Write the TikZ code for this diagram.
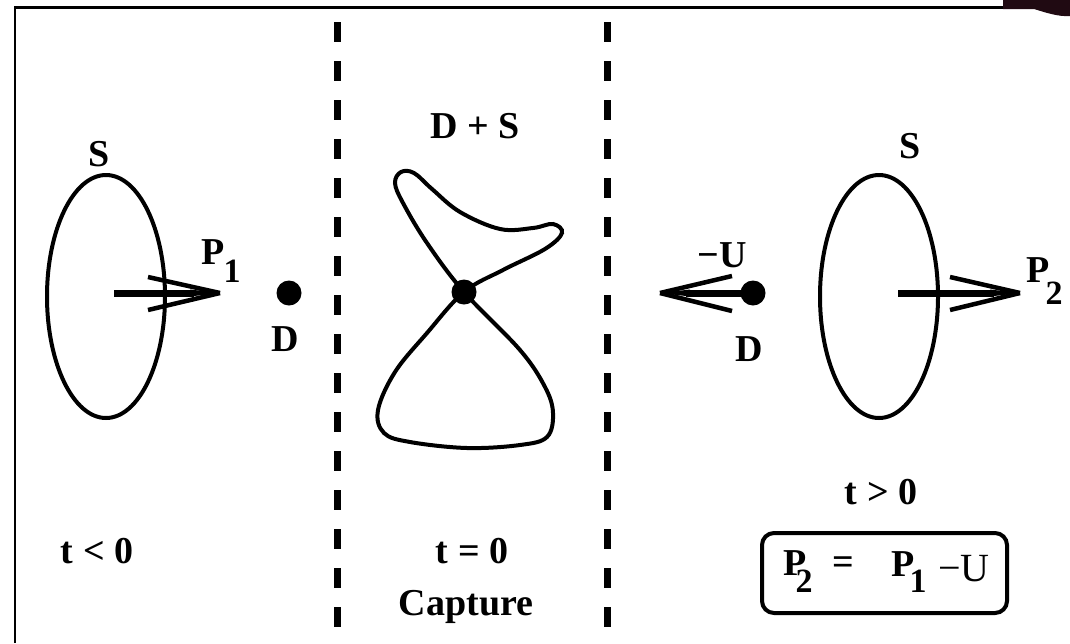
\documentclass[tikz,border=0pt]{standalone}
\usepackage{fontspec}
\setmainfont{Liberation Serif}
\usetikzlibrary{shapes.geometric}
\definecolor{blobc}{RGB}{32,10,18}
\begin{document}
\begin{tikzpicture}[x=1pt,y=-1pt,
  lbl/.style={font=\fontsize{38}{42}\selectfont\bfseries, inner sep=0pt},
  sublbl/.style={font=\fontsize{34}{38}\selectfont\bfseries, inner sep=0pt},
  dot/.style={circle, fill=black, minimum size=25pt, inner sep=0pt},
  ring/.style={draw, ellipse, line width=4pt, minimum width=118pt, minimum height=243pt, inner sep=0pt},
  curve/.style={line width=4pt},
  shaft/.style={line width=7pt},
  barb/.style={line width=4.5pt},
  divider/.style={line width=7pt, dash pattern=on 19.5pt off 19.5pt},
  frame/.style={line width=2.5pt, line join=miter}]
\useasboundingbox (0,0) rectangle (1070,643);

% frame
\draw[frame] (15,643) -- (15,7.3) -- (1003,7.3);
\fill[blobc] (1003,0) -- (1070,0) -- (1070,16) .. controls (1058,17) and (1044,12) .. (1034,9) -- (1003,9) -- cycle;

% dividers
\draw[divider] (337,22) -- (337,627);
\draw[divider] (607,22) -- (607,627);

% ---------- left panel ----------
\node[ring] (ringL) at (106,296.5) {};
\node[lbl] (SL) at (99,154) {S};
\coordinate (p1s) at (114,293);
\coordinate (p1t) at (220,293);
\coordinate (p1a) at (148,277);
\coordinate (p1b) at (148,310);
\draw[shaft] (p1s) -- ([xshift=-26pt]p1t);
\fill (p1t) -- ++(-30,-3.5) -- ++(0,7) -- cycle;
\draw[barb] (p1a) -- (p1t);
\draw[barb] (p1b) -- (p1t);
\node[lbl] (P1) at (213,252) {P};
\node[sublbl] (P1s) at (232,271) {1};
\node[dot] (DL) at (289,293) {};
\node[lbl] (DLl) at (285,339) {D};
\node[lbl] (tl) at (97,551) {t < 0};

% ---------- centre panel ----------
\node[lbl] (DS) at (475,126) {D + S};
\draw[curve] plot[smooth cycle, tension=0.6] coordinates {
  (464,292) (427,243) (403,203) (395,183) (401,172) (414,173) (432,189)
  (460,212) (500,229) (533,228) (553,224) (562,233) (545,249) (503,270)
  (464,292) (427,333) (395,372) (378,410) (384,433) (410,442) (467,448)
  (520,445) (547,437) (553,413) (545,387) (520,350)};
\node[dot] (DC) at (464,292) {};
\node[lbl] (tc) at (472,551) {t = 0};
\node[lbl] (cap) at (466,607) {Capture};

% ---------- right panel ----------
\node[ring] (ringR) at (879,296.5) {};
\node[lbl] (SR) at (910,146) {S};
\node[dot] (DR) at (753,293) {};
\coordinate (ut) at (660,293);
\coordinate (ua) at (732,276);
\coordinate (ub) at (732,311);
\draw[shaft] (DR.center) -- ([xshift=26pt]ut);
\fill (ut) -- ++(30,-3.5) -- ++(0,7) -- cycle;
\draw[barb] (ua) -- (ut);
\draw[barb] (ub) -- (ut);
\node[lbl] (U) at (722,255) {−U};
\node[lbl] (DRl) at (749,349) {D};
\coordinate (p2s) at (898,293);
\coordinate (p2t) at (1020,293);
\coordinate (p2a) at (950,277);
\coordinate (p2b) at (950,310);
\draw[shaft] (p2s) -- ([xshift=-26pt]p2t);
\fill (p2t) -- ++(-30,-3.5) -- ++(0,7) -- cycle;
\draw[barb] (p2a) -- (p2t);
\draw[barb] (p2b) -- (p2t);
\node[lbl] (P2) at (1038,270) {P};
\node[sublbl] (P2s) at (1054,293) {2};
\node[lbl] (tr) at (881,492) {t > 0};

% equation box
\node[draw, rounded corners=12pt, line width=4pt, minimum width=245pt, minimum height=80pt, inner sep=0pt] (box) at (884.5,573) {};
\node[lbl] (eP2) at (795,563) {P};
\node[sublbl] (eP2s) at (804,581) {2};
\node[lbl] (eq) at (843,566) {=};
\node[lbl] (eP1) at (903,564) {P};
\node[sublbl] (eP1s) at (918,581) {1};
\node[lbl, font=\fontsize{40}{44}\selectfont] (eU) at (964,569) {−U};
\end{tikzpicture}
\end{document}
